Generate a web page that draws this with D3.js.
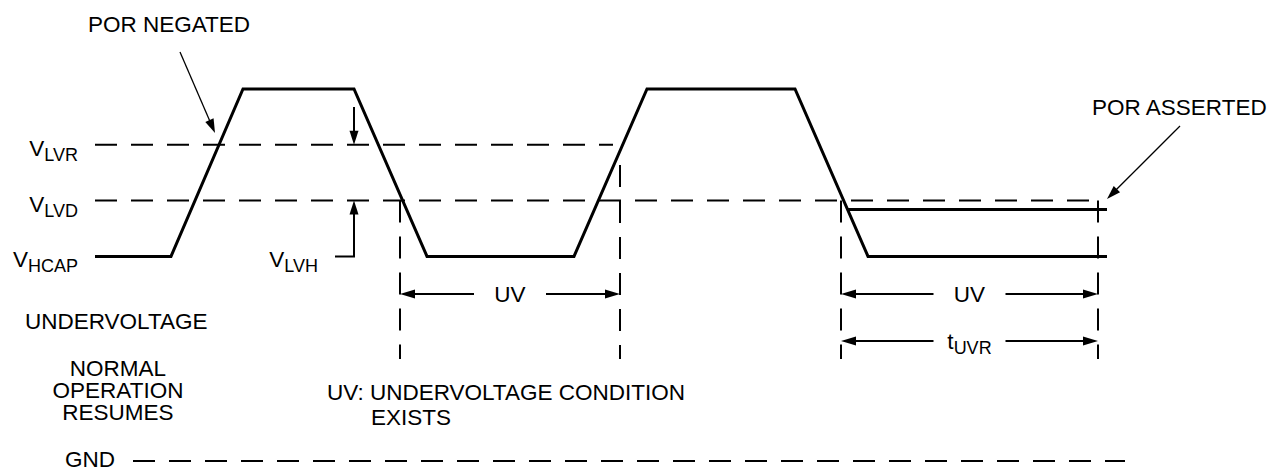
<!DOCTYPE html>
<html><head><meta charset="utf-8">
<script src="https://cdn.jsdelivr.net/npm/d3@7"></script>
<style>
html,body{margin:0;padding:0;background:#fff;}
svg{display:block;}
text{font-family:"Liberation Sans",Arial,Helvetica,sans-serif;fill:#000;}
</style>
</head><body>
<svg id="chart" width="1275" height="471"></svg>
<script>
// ---------- data (time in arbitrary units, voltage in arbitrary level units) ----------
const waveT = [0, 76, 148, 259, 332, 479, 552, 700, 773, 1012];
const waveV = [2.75, 2.75, 5.0, 5.0, 2.75, 2.75, 5.0, 5.0, 2.75, 2.75];
const porT = [753, 1012];
const porV = [3.38, 3.38];
const levelNames = ["LVR", "LVD", "HCAP"];
const levelV = [4.25, 3.5, 2.75];
const thresholdV = [4.25, 3.5];
const thresholdEndT = [518, 1003];
const gndV = 0;
const gndT = [38, 1030];
const markerT = [305, 525, 746, 1003];
const markerTopV = [3.5, 3.98, 3.5, 3.5];
const markerBottomV = 1.37;
const uvStartT = [305, 746];
const uvEndT = [525, 1003];
const tuvrStartT = 746;
const tuvrEndT = 1003;
const hystT = 259;

// ---------- scales ----------
const x = d3.scaleLinear().domain([0, 1012]).range([95, 1107]);
const y = d3.scaleLinear().domain([0, 5]).range([461, 89]);

const svg = d3.select("#chart");
const FS = 22.5, SUB = 18;

function arrowHead(g, x1, y1, x2, y2, len, hw) {
  const dx = x2 - x1, dy = y2 - y1, L = Math.hypot(dx, dy);
  const ux = dx / L, uy = dy / L, px = -uy, py = ux;
  const bx = x2 - ux * len, by = y2 - uy * len;
  g.append("path")
    .attr("d", `M${x2},${y2}L${bx + px * hw},${by + py * hw}L${bx - px * hw},${by - py * hw}Z`)
    .attr("fill", "#000");
}
function arrow(g, x1, y1, x2, y2, w, len, hw) {
  const dx = x2 - x1, dy = y2 - y1, L = Math.hypot(dx, dy);
  g.append("line").attr("x1", x1).attr("y1", y1)
    .attr("x2", x2 - dx / L * (len * 0.8)).attr("y2", y2 - dy / L * (len * 0.8))
    .attr("stroke", "#000").attr("stroke-width", w);
  arrowHead(g, x1, y1, x2, y2, len, hw);
}
function vLabel(g, xr, yb, sub, anchor) {
  const t = g.append("text").attr("x", xr).attr("y", yb).attr("font-size", FS)
    .attr("text-anchor", anchor || "end");
  t.append("tspan").text("V");
  t.append("tspan").attr("font-size", SUB).attr("dy", 5).text(sub);
}

const g = svg.append("g");

// threshold dashed lines
thresholdV.forEach((v, i) => {
  g.append("line").attr("x1", x(0)).attr("x2", x(thresholdEndT[i]))
    .attr("y1", y(v)).attr("y2", y(v))
    .attr("stroke", "#000").attr("stroke-width", 2).attr("stroke-dasharray", "22,14");
});
// GND dashed line
g.append("line").attr("x1", x(gndT[0])).attr("x2", x(gndT[1]))
  .attr("y1", y(gndV)).attr("y2", y(gndV))
  .attr("stroke", "#000").attr("stroke-width", 2).attr("stroke-dasharray", "22,14");

// vertical marker dashed lines
markerT.forEach((t, i) => {
  g.append("line").attr("x1", x(t)).attr("x2", x(t))
    .attr("y1", y(markerTopV[i])).attr("y2", y(markerBottomV))
    .attr("stroke", "#000").attr("stroke-width", 2).attr("stroke-dasharray", "22,14");
});

// waveform
const line = d3.line().x(d => x(d[0])).y(d => y(d[1]));
g.append("path").datum(waveT.map((t, i) => [t, waveV[i]]))
  .attr("d", line).attr("fill", "none").attr("stroke", "#000")
  .attr("stroke-width", 3).attr("stroke-linejoin", "miter");
g.append("path").datum(porT.map((t, i) => [t, porV[i]]))
  .attr("d", line).attr("fill", "none").attr("stroke", "#000").attr("stroke-width", 3);

// level labels
const labelYOff = 11;
levelNames.forEach((n, i) => vLabel(g, 78, y(levelV[i]) + labelYOff, n));

// VLVH hysteresis bracket
const hx = x(hystT);
arrow(g, hx, 107, hx, y(levelV[0]), 2, 14, 4.5);
g.append("path")
  .attr("d", `M335,${y(levelV[2])}H${hx}V${y(levelV[1]) + 12}`)
  .attr("fill", "none").attr("stroke", "#000").attr("stroke-width", 2);
arrowHead(g, hx, y(levelV[2]), hx, y(levelV[1]), 14, 4.5);
vLabel(g, 318, y(levelV[2]) + labelYOff, "LVH");

// UV dimension arrows
const uvY = 294, tuvrY = 341, gapHalf = 36;
function dimArrow(t1, t2, yy) {
  const a = x(t1), b = x(t2), c = (a + b) / 2;
  arrow(g, c - gapHalf, yy, a, yy, 2, 15, 4.5);
  arrow(g, c + gapHalf, yy, b, yy, 2, 15, 4.5);
  return c;
}
uvStartT.forEach((t, i) => {
  const c = dimArrow(t, uvEndT[i], uvY);
  g.append("text").attr("x", c).attr("y", uvY + 8).attr("font-size", FS)
    .attr("text-anchor", "middle").text("UV");
});
{
  const c = dimArrow(tuvrStartT, tuvrEndT, tuvrY);
  const t = g.append("text").attr("x", c).attr("y", tuvrY + 8).attr("font-size", FS)
    .attr("text-anchor", "middle");
  t.append("tspan").text("t");
  t.append("tspan").attr("font-size", SUB).attr("dy", 5).text("UVR");
}

// POR labels and pointers
g.append("text").attr("x", 88).attr("y", 32).attr("font-size", FS).text("POR NEGATED");
arrow(g, 180, 52, 215, 133, 1.3, 14, 4.5);
g.append("text").attr("x", 1092).attr("y", 115).attr("font-size", FS).text("POR ASSERTED");
arrow(g, 1180, 126, 1107, 199, 1.3, 14, 4.5);

// other text
g.append("text").attr("x", 25).attr("y", 329).attr("font-size", FS).text("UNDERVOLTAGE");
["NORMAL", "OPERATION", "RESUMES"].forEach((s, i) => {
  g.append("text").attr("x", 118).attr("y", 376 + i * 22).attr("font-size", FS)
    .attr("text-anchor", "middle").text(s);
});
g.append("text").attr("x", 327).attr("y", 400).attr("font-size", FS).text("UV: UNDERVOLTAGE CONDITION");
g.append("text").attr("x", 371).attr("y", 425).attr("font-size", FS).text("EXISTS");
g.append("text").attr("x", 65).attr("y", 467).attr("font-size", FS).text("GND");
</script>
</body></html>
